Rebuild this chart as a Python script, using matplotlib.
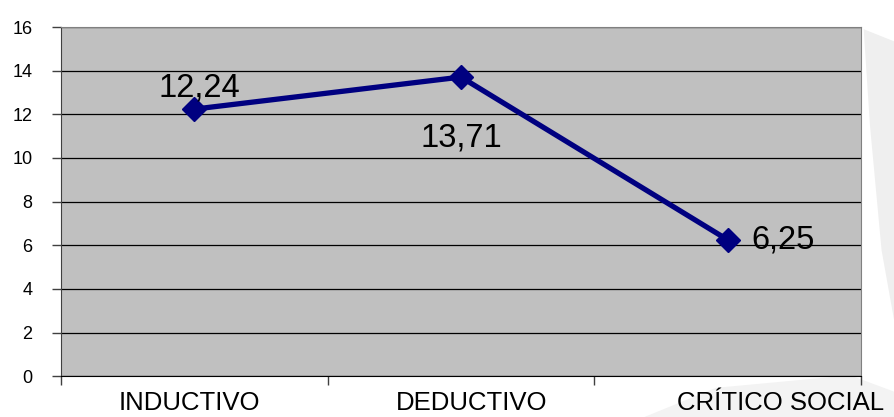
import matplotlib
matplotlib.use("Agg")
import matplotlib.pyplot as plt
from matplotlib.patches import Polygon

categorias = ["INDUCTIVO", "DEDUCTIVO", "CRÍTICO SOCIAL"]
valores = [12.24, 13.71, 6.25]
etiquetas = ["12,24", "13,71", "6,25"]
y_ticks = [0, 2, 4, 6, 8, 10, 12, 14, 16]

plt.rcParams["font.family"] = ["Liberation Sans", "DejaVu Sans"]

fig = plt.figure(figsize=(8.95, 4.17), dpi=100)
fig.patch.set_facecolor("white")

# marca de agua tenue a la derecha
fig.patches.append(Polygon(
    [(0.965, 0.93), (1.0, 0.90), (1.0, 0.22), (0.985, 0.40), (0.972, 0.70)],
    closed=True, transform=fig.transFigure, facecolor="#efefef",
    edgecolor="none", zorder=-1))
fig.patches.append(Polygon(
    [(0.72, 0.0), (0.80, 0.07), (0.95, 0.10), (1.0, 0.06), (1.0, 0.0)],
    closed=True, transform=fig.transFigure, facecolor="#f3f3f3",
    edgecolor="none", zorder=-1))

ax = fig.add_axes([0.068, 0.098, 0.894, 0.837])
ax.set_facecolor("#c0c0c0")

x = list(range(len(categorias)))
ax.plot(x, valores, color="#000080", linewidth=3.8, marker="D",
        markersize=12, zorder=3)

ax.set_xlim(-0.5, len(categorias) - 0.5)
ax.set_ylim(0, 16)
ax.set_yticks(y_ticks)
ax.set_yticklabels([str(v) for v in y_ticks], fontsize=13)
ax.yaxis.grid(True, color="black", linewidth=0.9)
ax.set_axisbelow(True)

ax.set_xticks([-0.5, 0.5, 1.5, 2.5])
ax.set_xticklabels([])
ax.tick_params(axis="both", direction="out", length=6.5, width=1, colors="#404040")
ax.tick_params(axis="y", labelcolor="black", pad=14)

for lado in ["top", "right"]:
    ax.spines[lado].set_color("#808080")
ax.spines["left"].set_color("#404040")
ax.spines["bottom"].set_color("black")

# nombres de categoría
offs = [-0.02, 1.04, 2.2]
for xo, nombre in zip(offs, categorias):
    ax.text(xo, -0.078, nombre, transform=ax.get_xaxis_transform(),
            ha="center", va="center", fontsize=18.5, clip_on=False)

# etiquetas de valor
pos = [(0.02, 0.95, "center", "center"),
       (0.0, -2.8, "center", "center"),
       (0.09, 0.0, "left", "center")]
for xi, v, et, (dx, dy, ha, va) in zip(x, valores, etiquetas, pos):
    ax.text(xi + dx, v + dy, et, ha=ha, va=va, fontsize=23.5, zorder=4)

fig.savefig("out.png", dpi=100)
